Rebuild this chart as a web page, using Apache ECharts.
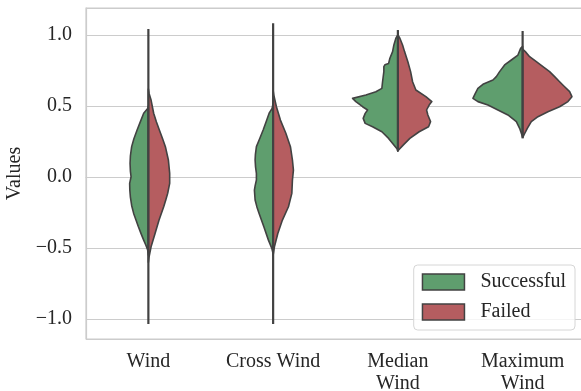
<!DOCTYPE html>
<html><head><meta charset="utf-8">
<script src="https://cdn.jsdelivr.net/npm/echarts@6/dist/echarts.min.js"></script>
<style>html,body{margin:0;padding:0;background:#fff}#c{width:581px;height:391px}</style>
</head><body><div id="c"></div>
<script>
const categories = ['Wind', 'Cross Wind', 'Median\nWind', 'Maximum\nWind'];
const groups = ['Successful', 'Failed'];
// full extent of each violin (tails) [min, max]
const extents = [[-1.035, 1.042], [-1.035, 1.082], [0.183, 1.035], [0.272, 1.028]];

// density profiles: [value, relative density (1 = widest violin)]
const windSuccessful = [[0.50,0],[0.484,0.01],[0.449,0.094],[0.39,0.16],[0.331,0.226],[0.27,0.29],[0.214,0.335],[0.15,0.36],[0.096,0.367],[0.04,0.36],[0.002,0.347],[-0.045,0.375],[-0.09,0.372],[-0.139,0.361],[-0.20,0.335],[-0.256,0.295],[-0.30,0.25],[-0.350,0.200],[-0.40,0.145],[-0.444,0.094],[-0.48,0.05],[-0.514,0.014],[-0.55,0]];
const windFailed = [[0.62,0],[0.589,0.014],[0.542,0.054],[0.449,0.106],[0.39,0.16],[0.331,0.220],[0.27,0.285],[0.214,0.341],[0.120,0.401],[0.026,0.427],[-0.045,0.427],[-0.115,0.387],[-0.16,0.35],[-0.209,0.307],[-0.303,0.214],[-0.397,0.134],[-0.491,0.054],[-0.561,0.014],[-0.60,0]];
const crossWindSuccessful = [[0.52,0],[0.484,0.02],[0.449,0.080],[0.39,0.14],[0.331,0.200],[0.27,0.27],[0.214,0.335],[0.160,0.355],[0.120,0.361],[0.07,0.352],[0.026,0.335],[-0.021,0.335],[-0.06,0.36],[-0.092,0.375],[-0.162,0.361],[-0.21,0.325],[-0.256,0.281],[-0.350,0.186],[-0.444,0.094],[-0.502,0.026],[-0.54,0]];
const crossWindFailed = [[0.61,0],[0.577,0.014],[0.495,0.066],[0.401,0.146],[0.308,0.255],[0.214,0.347],[0.120,0.387],[0.049,0.407],[-0.021,0.387],[-0.115,0.375],[-0.209,0.307],[-0.303,0.186],[-0.397,0.094],[-0.491,0.026],[-0.55,0]];
const medianWindSuccessful = [[1.00,0],[0.977,0.040],[0.930,0.080],[0.883,0.106],[0.836,0.160],[0.800,0.186],[0.790,0.26],[0.777,0.281],[0.742,0.281],[0.671,0.307],[0.624,0.321],[0.601,0.441],[0.577,0.641],[0.554,0.908],[0.531,0.842],[0.495,0.707],[0.472,0.607],[0.448,0.655],[0.413,0.695],[0.378,0.655],[0.354,0.507],[0.319,0.321],[0.272,0.186],[0.225,0.080],[0.197,0.014],[0.183,0]];
const medianWindFailed = [[1.00,0],[0.977,0.040],[0.930,0.094],[0.883,0.134],[0.812,0.200],[0.742,0.255],[0.671,0.295],[0.613,0.361],[0.566,0.561],[0.531,0.681],[0.507,0.627],[0.472,0.575],[0.437,0.601],[0.390,0.655],[0.354,0.615],[0.319,0.427],[0.272,0.240],[0.225,0.106],[0.190,0.014],[0.183,0]];
const maximumWindSuccessful = [[0.92,0],[0.906,0.040],[0.859,0.094],[0.824,0.226],[0.789,0.361],[0.742,0.461],[0.707,0.527],[0.683,0.595],[0.653,0.796],[0.624,0.896],[0.589,0.948],[0.554,0.996],[0.531,0.896],[0.507,0.695],[0.472,0.495],[0.437,0.295],[0.390,0.126],[0.343,0.060],[0.308,0.026],[0.28,0]];
const maximumWindFailed = [[0.90,0],[0.883,0.054],[0.847,0.140],[0.812,0.275],[0.777,0.407],[0.742,0.541],[0.707,0.641],[0.671,0.741],[0.636,0.842],[0.601,0.942],[0.566,0.988],[0.531,0.908],[0.495,0.741],[0.460,0.507],[0.425,0.307],[0.390,0.174],[0.343,0.094],[0.296,0.026],[0.28,0]];

const successfulProfiles = [windSuccessful, crossWindSuccessful, medianWindSuccessful, maximumWindSuccessful];
const failedProfiles = [windFailed, crossWindFailed, medianWindFailed, maximumWindFailed];

const GREEN = '#5f9e6e', RED = '#b55d60', EDGE = '#424242';
const FONT = '"Liberation Serif", "DejaVu Serif", serif';
const TEXT = '#262626';

function halfViolin(profiles, side, color) {
  return function (params, api) {
    const i = api.value(0);
    const band = api.size([1, 0])[0];
    const scale = 0.4 * band;
    const pts = profiles[i].map(p => {
      const c = api.coord([i, p[0]]);
      return [c[0] + side * p[1] * scale, c[1]];
    });
    return { type: 'polygon', shape: { points: pts },
      style: { fill: color, stroke: EDGE, lineWidth: 1.6, lineJoin: 'round' } };
  };
}

const chart = echarts.init(document.getElementById('c'), null, { renderer: 'canvas' });
const catData = categories.map((c, i) => [i, extents[i][1]]);

chart.setOption({
  animation: false,
  backgroundColor: '#fff',
  grid: { left: 86, right: -4, top: 8, bottom: 52, containLabel: false, outerBoundsMode: 'none',
    show: true, borderColor: '#cccccc', borderWidth: 1.2 },
  xAxis: {
    type: 'category', data: categories, boundaryGap: true,
    axisLine: { show: true, lineStyle: { color: '#cccccc', width: 1.2 } },
    axisTick: { show: false },
    splitLine: { show: false },
    axisLabel: { color: TEXT, fontFamily: FONT, fontSize: 20, lineHeight: 22, margin: 12 }
  },
  yAxis: {
    type: 'value', min: -1.14, max: 1.19, splitNumber: 5,
    name: 'Values', nameLocation: 'middle', nameGap: 54,
    nameTextStyle: { color: TEXT, fontFamily: FONT, fontSize: 20 },
    axisLine: { show: true, lineStyle: { color: '#cccccc', width: 1.2 } },
    axisTick: { show: false },
    splitLine: { show: true, lineStyle: { color: '#cccccc', width: 1.2 } },
    axisLabel: {
      color: TEXT, fontFamily: FONT, fontSize: 20, margin: 14,
      showMinLabel: false, showMaxLabel: false,
      formatter: v => (v < 0 ? '\u2212' : '') + Math.abs(v).toFixed(1)
    }
  },
  legend: {
    data: groups, orient: 'vertical', right: 6, top: 265,
    icon: 'rect', itemWidth: 42, itemHeight: 16, itemGap: 10,
    padding: [7, 9, 8, 8],
    backgroundColor: 'rgba(255,255,255,0.8)', borderColor: '#d6d6d6', borderWidth: 1, borderRadius: 4,
    itemStyle: { borderColor: EDGE, borderWidth: 1.5 },
    textStyle: { color: TEXT, fontFamily: FONT, fontSize: 20, padding: [0, 0, 0, 11] }
  },
  series: [
    { name: 'Successful', type: 'custom', renderItem: halfViolin(successfulProfiles, -1, GREEN),
      itemStyle: { color: GREEN }, data: catData, encode: { x: 0, y: 1 }, z: 3 },
    { name: 'Failed', type: 'custom', renderItem: halfViolin(failedProfiles, 1, RED),
      itemStyle: { color: RED }, data: catData, encode: { x: 0, y: 1 }, z: 3 },
    { name: 'range', type: 'custom', z: 4, data: catData, encode: { x: 0, y: 1 },
      renderItem: function (params, api) {
        const i = api.value(0);
        const a = api.coord([i, extents[i][0]]);
        const b = api.coord([i, extents[i][1]]);
        return { type: 'line', shape: { x1: a[0], y1: a[1], x2: b[0], y2: b[1] },
          style: { stroke: EDGE, lineWidth: 2.2 } };
      } }
  ]
});
</script></body></html>
